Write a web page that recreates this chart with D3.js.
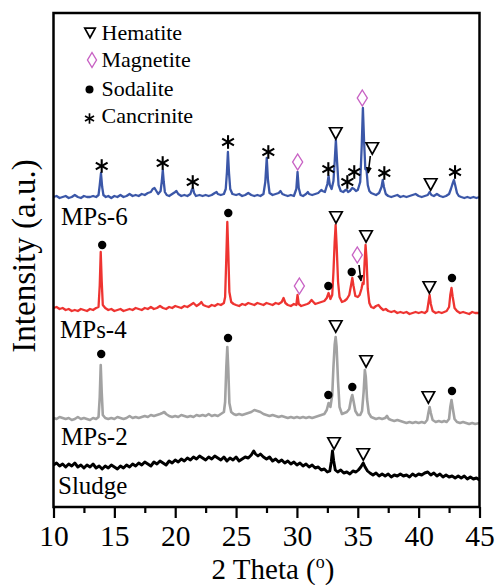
<!DOCTYPE html>
<html>
<head>
<meta charset="utf-8">
<script src="https://cdn.jsdelivr.net/npm/d3@7"></script>
<style>
html,body{margin:0;padding:0;background:#fff;}
svg{display:block;}
text{font-family:"Liberation Serif","Times New Roman",serif;fill:#000;}
</style>
</head>
<body>
<svg id="chart" width="496" height="585"></svg>
<script>
// ---------------- DATA ----------------
const xTicks = [10, 15, 20, 25, 30, 35, 40, 45];
const xMinorTicks = [12.5, 17.5, 22.5, 27.5, 32.5, 37.5, 42.5];
const seriesNames = ["MPs-6", "MPs-4", "MPs-2", "Sludge"];
const legendNames = ["Hematite", "Magnetite", "Sodalite", "Cancrinite"];

// [2 theta, intensity (a.u., stacked)]
const mps6 = [[10,310],[10.25,311],[10.5,309],[10.75,310],[11,311],[11.25,309],[11.5,310],[11.75,312],[12,310],[12.25,309],[12.5,311],[12.75,310],[13,310],[13.25,311],[13.5,310],[13.7,312],[13.8,322],[13.9,334],[14,320],[14.1,312],[14.3,310],[14.5,311],[14.75,309],[15,311],[15.25,310],[15.5,312],[15.75,310],[16,311],[16.25,313],[16.5,311],[16.75,312],[17,311],[17.25,313],[17.5,312],[17.75,314],[18,315],[18.15,318],[18.3,319],[18.45,316],[18.6,313],[18.8,316],[18.9,326],[18.98,337],[19.06,325],[19.15,315],[19.3,312],[19.5,311],[19.75,313],[20,315],[20.1,316],[20.25,313],[20.5,311],[20.75,312],[21,311],[21.25,313],[21.35,317],[21.45,319],[21.55,314],[21.7,311],[22,312],[22.25,311],[22.5,312],[22.75,311],[23,312],[23.25,314],[23.4,315],[23.5,313],[23.75,312],[24,313],[24.15,318],[24.25,335],[24.33,355],[24.42,334],[24.52,318],[24.7,313],[25,312],[25.25,313],[25.5,311],[25.75,312],[26,314],[26.25,312],[26.5,311],[26.75,312],[27,311],[27.25,313],[27.4,325],[27.52,349],[27.62,327],[27.75,314],[28,312],[28.25,313],[28.5,314],[28.65,316],[28.8,313],[29,312],[29.25,311],[29.5,312],[29.75,311],[29.95,318],[30.05,335],[30.15,319],[30.3,312],[30.5,311],[30.75,313],[30.9,315],[31,313],[31.25,312],[31.5,313],[31.75,314],[32,317],[32.1,316],[32.3,315],[32.5,323],[32.6,331],[32.7,322],[32.85,318],[33,326],[33.1,345],[33.2,367],[33.3,345],[33.42,322],[33.6,316],[33.8,315],[34,317],[34.1,317],[34.2,315],[34.35,316],[34.55,319],[34.7,318],[34.85,316],[35,317],[35.2,325],[35.32,360],[35.42,399],[35.52,365],[35.62,338],[35.72,337],[35.82,322],[35.95,316],[36.1,314],[36.3,313],[36.5,312],[36.75,314],[36.95,320],[37.05,327],[37.15,320],[37.3,313],[37.5,311],[37.75,310],[38,311],[38.25,312],[38.5,310],[38.75,311],[39,310],[39.25,311],[39.5,312],[39.75,313],[40,311],[40.25,310],[40.5,311],[40.75,312],[40.9,315],[41.05,312],[41.25,311],[41.5,313],[41.75,311],[42,310],[42.25,311],[42.5,313],[42.65,318],[42.78,323],[42.9,327],[43,322],[43.15,314],[43.3,311],[43.5,310],[43.75,309],[44,310],[44.25,309],[44.5,310],[44.75,309],[45,310]];

const mps4 = [[10,199],[10.25,200],[10.5,198],[10.75,199],[11,197],[11.25,198],[11.5,196],[11.75,197],[12,196],[12.25,198],[12.5,197],[12.75,196],[13,198],[13.25,197],[13.5,199],[13.7,200],[13.8,222],[13.88,255],[13.96,226],[14.05,202],[14.25,199],[14.5,197],[14.75,198],[15,196],[15.25,197],[15.5,198],[15.75,196],[16,197],[16.25,198],[16.5,197],[16.75,199],[17,198],[17.25,197],[17.5,199],[17.75,198],[18,200],[18.25,198],[18.5,199],[18.75,201],[19,199],[19.25,198],[19.5,200],[19.75,199],[20,201],[20.25,200],[20.5,199],[20.75,201],[21,200],[21.25,202],[21.5,204],[21.75,201],[22,203],[22.15,205],[22.3,202],[22.5,201],[22.75,200],[23,202],[23.25,201],[23.5,203],[23.75,202],[24,204],[24.1,210],[24.2,250],[24.28,285],[24.36,255],[24.45,215],[24.6,205],[24.8,203],[25,202],[25.25,201],[25.5,203],[25.75,202],[26,204],[26.25,203],[26.5,202],[26.75,204],[27,203],[27.25,202],[27.5,204],[27.75,203],[28,202],[28.25,204],[28.5,203],[28.75,205],[28.9,209],[29.05,204],[29.25,202],[29.5,201],[29.75,203],[29.95,202],[30.05,212],[30.15,203],[30.35,201],[30.6,202],[30.85,203],[31,204],[31.2,207],[31.35,205],[31.5,203],[31.75,204],[32,205],[32.25,206],[32.45,209],[32.6,214],[32.75,208],[32.9,212],[33,235],[33.1,265],[33.18,282],[33.26,262],[33.38,225],[33.5,210],[33.7,205],[33.9,206],[34.1,208],[34.3,212],[34.45,222],[34.55,229],[34.65,221],[34.8,211],[35,210],[35.15,212],[35.3,218],[35.4,224],[35.48,223],[35.56,245],[35.64,262],[35.72,248],[35.82,218],[35.95,204],[36.1,200],[36.3,199],[36.5,201],[36.7,202],[36.9,199],[37.1,197],[37.3,198],[37.5,196],[37.75,195],[38,196],[38.25,194],[38.5,195],[38.75,194],[39,195],[39.25,193],[39.5,194],[39.75,195],[40,194],[40.25,195],[40.5,194],[40.7,196],[40.8,204],[40.9,212],[41,203],[41.15,196],[41.4,194],[41.65,195],[41.9,194],[42.1,195],[42.3,196],[42.5,200],[42.6,212],[42.7,219],[42.8,210],[42.95,199],[43.15,196],[43.4,194],[43.65,195],[43.9,194],[44.15,193],[44.4,195],[44.65,194],[45,194]];

const mps2 = [[10,89],[10.25,88],[10.5,90],[10.75,89],[11,88],[11.25,89],[11.5,87],[11.75,88],[12,90],[12.25,88],[12.5,89],[12.75,88],[13,87],[13.25,89],[13.5,88],[13.7,90],[13.8,110],[13.88,142],[13.96,115],[14.05,92],[14.25,89],[14.5,88],[14.75,89],[15,88],[15.25,90],[15.5,89],[15.75,88],[16,89],[16.25,91],[16.5,89],[16.75,90],[17,89],[17.25,90],[17.5,91],[17.75,90],[18,92],[18.25,91],[18.5,92],[18.75,93],[18.95,94],[19.1,95],[19.25,93],[19.5,91],[19.75,90],[20,91],[20.25,90],[20.5,92],[20.75,91],[21,90],[21.25,91],[21.5,90],[21.75,92],[22,91],[22.25,92],[22.5,91],[22.75,93],[23,91],[23.25,92],[23.5,91],[23.75,93],[24,95],[24.1,105],[24.2,140],[24.28,160],[24.36,138],[24.45,104],[24.6,95],[24.8,93],[25,92],[25.25,93],[25.5,92],[25.75,93],[26,94],[26.25,95],[26.5,97],[26.75,96],[27,95],[27.25,93],[27.5,92],[27.75,91],[28,92],[28.25,91],[28.5,90],[28.75,91],[29,90],[29.25,89],[29.5,90],[29.75,89],[30,90],[30.25,89],[30.5,90],[30.75,89],[31,90],[31.25,89],[31.5,90],[31.75,91],[32,92],[32.25,93],[32.45,97],[32.6,104],[32.75,100],[32.9,112],[33,140],[33.1,162],[33.18,170],[33.26,160],[33.38,125],[33.5,100],[33.7,93],[33.9,94],[34.1,95],[34.3,98],[34.45,108],[34.55,112],[34.65,106],[34.8,96],[35,92],[35.2,92],[35.35,96],[35.48,115],[35.58,137],[35.66,130],[35.76,108],[35.9,94],[36.1,90],[36.3,89],[36.5,88],[36.75,89],[37,88],[37.25,89],[37.4,91],[37.55,88],[37.75,87],[38,86],[38.25,87],[38.5,86],[38.75,85],[39,84],[39.25,85],[39.5,84],[39.75,85],[40,84],[40.25,85],[40.5,84],[40.7,87],[40.8,94],[40.9,100],[41,94],[41.15,87],[41.4,85],[41.65,86],[41.9,85],[42.1,86],[42.3,85],[42.5,88],[42.6,100],[42.7,107],[42.8,99],[42.95,88],[43.15,85],[43.4,84],[43.65,85],[43.9,84],[44.15,83],[44.4,84],[44.65,83],[45,84]];

const sludge = [[10,42],[10.25,44],[10.5,41],[10.75,43],[11,40],[11.25,43],[11.5,41],[11.75,44],[12,40],[12.25,42],[12.5,39],[12.75,42],[13,40],[13.25,43],[13.5,39],[13.75,41],[14,38],[14.25,41],[14.5,39],[14.75,42],[15,40],[15.25,38],[15.5,41],[15.75,39],[16,42],[16.25,40],[16.5,43],[16.75,41],[17,44],[17.25,42],[17.5,45],[17.75,43],[18,41],[18.25,45],[18.5,43],[18.75,46],[19,44],[19.25,42],[19.5,46],[19.75,44],[20,47],[20.25,45],[20.5,48],[20.75,46],[21,49],[21.25,47],[21.5,50],[21.75,48],[22,51],[22.25,49],[22.5,47],[22.75,50],[23,48],[23.25,51],[23.5,49],[23.75,47],[24,50],[24.25,46],[24.5,49],[24.75,47],[25,50],[25.25,46],[25.5,48],[25.75,50],[26,49],[26.25,52],[26.45,56],[26.6,53],[26.8,51],[27,53],[27.25,50],[27.5,48],[27.75,50],[28,46],[28.25,48],[28.5,45],[28.75,47],[29,44],[29.25,46],[29.5,43],[29.75,45],[30,42],[30.25,44],[30.5,41],[30.75,43],[31,40],[31.25,42],[31.5,39],[31.75,40],[32,37],[32.25,38],[32.5,35],[32.7,36],[32.82,45],[32.92,56],[33.02,46],[33.15,37],[33.35,35],[33.6,37],[33.85,34],[34.1,35],[34.35,33],[34.6,36],[34.85,35],[35.05,37],[35.25,40],[35.45,44],[35.6,40],[35.8,36],[36,34],[36.25,32],[36.5,34],[36.75,31],[37,33],[37.25,31],[37.5,33],[37.75,30],[38,32],[38.25,31],[38.5,33],[38.75,31],[39,32],[39.25,30],[39.5,33],[39.75,31],[40,33],[40.25,32],[40.5,34],[40.75,35],[41,32],[41.25,34],[41.5,31],[41.75,33],[42,30],[42.25,32],[42.5,30],[42.75,31],[43,29],[43.25,31],[43.5,29],[43.75,31],[44,28],[44.25,30],[44.5,28],[44.75,29],[45,27]];

// phase markers [2 theta, intensity]
const hematiteMarks = [[33.19,374],[36.19,359],[40.99,323],[33.21,290],[35.68,271],[40.88,220],[33.19,181],[35.68,146],[40.8,110],[33.05,64],[35.45,53]];
const magnetiteMarks = [[30.06,345],[35.37,409],[30.2,221],[34.96,252]];
const sodaliteMarks = [[14.0,262],[24.36,294],[32.58,221],[34.5,235],[42.74,229],[13.92,153],[24.34,169],[32.58,112],[34.55,120],[42.74,116]];
const cancriniteMarks = [[13.96,341],[18.97,344],[21.44,325],[24.34,365],[27.65,355],[32.58,338],[34.14,325],[34.71,335],[37.18,334],[42.99,335]];
// arrows [from 2θ, from I, to 2θ, to I]
const arrows = [[36.03,351,35.86,334],[35.1,242,35.26,226]];

// ---------------- LAYOUT ----------------
const W = 496, H = 585;
const plot = {left: 53.5, right: 479.5, top: 13, bottom: 507};
const colors = {"MPs-6": "#3b57a8", "MPs-4": "#ee3431", "MPs-2": "#a2a2a2", "Sludge": "#000000"};
const widths = {"MPs-6": 2.3, "MPs-4": 2.3, "MPs-2": 2.6, "Sludge": 2.9};
const seriesData = {"MPs-6": mps6, "MPs-4": mps4, "MPs-2": mps2, "Sludge": sludge};
const labelPos = {"MPs-6": [61, 225], "MPs-4": [60, 338], "MPs-2": [61, 445], "Sludge": [58, 494]};
const magenta = "#c862c4";

const svg = d3.select("#chart");
const x = d3.scaleLinear().domain([10, 45]).range([plot.left, plot.right]);
const y = d3.scaleLinear().domain([0, 494]).range([plot.bottom, plot.top]);

svg.append("defs").append("marker")
  .attr("id", "ah").attr("viewBox", "0 0 10 10").attr("refX", 9).attr("refY", 5)
  .attr("markerWidth", 4).attr("markerHeight", 4).attr("orient", "auto")
  .append("path").attr("d", "M0,0 L10,5 L0,10 z").attr("fill", "#000");

// series lines
const line = d3.line().x(d => x(d[0])).y(d => y(d[1]));
seriesNames.slice().reverse().forEach(n => {
  svg.append("path").datum(seriesData[n])
    .attr("d", line).attr("fill", "none")
    .attr("stroke", colors[n]).attr("stroke-width", widths[n])
    .attr("stroke-linejoin", "round");
});

// series labels
seriesNames.forEach(n => {
  svg.append("text").attr("x", labelPos[n][0]).attr("y", labelPos[n][1])
    .attr("font-size", 25).text(n);
});

// marker drawers
function tri(g, cx, cy, s) {
  g.append("path")
    .attr("d", `M${cx - s/2},${cy - s*0.42} L${cx + s/2},${cy - s*0.42} L${cx},${cy + s*0.5} Z`)
    .attr("fill", "#fff").attr("stroke", "#000").attr("stroke-width", 1.7).attr("stroke-linejoin", "miter");
}
function diamond(g, cx, cy, w, h) {
  g.append("path")
    .attr("d", `M${cx},${cy - h/2} L${cx + w/2},${cy} L${cx},${cy + h/2} L${cx - w/2},${cy} Z`)
    .attr("fill", "#fff").attr("stroke", magenta).attr("stroke-width", 1.4);
}
function dot(g, cx, cy, r) {
  g.append("circle").attr("cx", cx).attr("cy", cy).attr("r", r).attr("fill", "#000");
}
function star(g, cx, cy, r, sw) {
  [90, 30, 150].forEach(a => {
    const rad = a * Math.PI / 180;
    g.append("line")
      .attr("x1", cx - r * Math.cos(rad)).attr("y1", cy - r * Math.sin(rad))
      .attr("x2", cx + r * Math.cos(rad)).attr("y2", cy + r * Math.sin(rad))
      .attr("stroke", "#000").attr("stroke-width", sw);
  });
}

const mk = svg.append("g");
hematiteMarks.forEach(d => tri(mk, x(d[0]), y(d[1]), 12.5));
magnetiteMarks.forEach(d => diamond(mk, x(d[0]), y(d[1]), 10, 16));
sodaliteMarks.forEach(d => dot(mk, x(d[0]), y(d[1]), 4.2));
cancriniteMarks.forEach(d => star(mk, x(d[0]), y(d[1]), 6.8, 2.1));
arrows.forEach(a => {
  mk.append("line")
    .attr("x1", x(a[0])).attr("y1", y(a[1])).attr("x2", x(a[2])).attr("y2", y(a[3]))
    .attr("stroke", "#000").attr("stroke-width", 1.6).attr("marker-end", "url(#ah)");
});

// legend
const lg = svg.append("g");
const legY = [39.5, 67, 95.5, 123];
legendNames.forEach((n, i) => {
  lg.append("text").attr("x", 101.5).attr("y", legY[i]).attr("font-size", 22).text(n);
});
tri(lg, 90, 32.5, 10.5);
diamond(lg, 92, 60, 9, 15);
dot(lg, 89.5, 89.5, 4);
star(lg, 89.5, 118.5, 5.2, 1.7);

// frame
svg.append("rect").attr("x", plot.left).attr("y", plot.top)
  .attr("width", plot.right - plot.left).attr("height", plot.bottom - plot.top)
  .attr("fill", "none").attr("stroke", "#000").attr("stroke-width", 2.5);

// x axis
const ax = svg.append("g").attr("transform", `translate(0,${plot.bottom})`)
  .call(d3.axisBottom(x).tickValues(xTicks).tickSize(11).tickPadding(7).tickFormat(d3.format("d")));
ax.select(".domain").remove();
ax.selectAll(".tick line").attr("stroke-width", 2.2);
ax.selectAll(".tick text").attr("font-size", 29.5)
  .attr("font-family", '"Liberation Serif","Times New Roman",serif').attr("fill", "#000");
const axm = svg.append("g").attr("transform", `translate(0,${plot.bottom})`)
  .call(d3.axisBottom(x).tickValues(xMinorTicks).tickSize(6).tickFormat(""));
axm.select(".domain").remove();
axm.selectAll(".tick line").attr("stroke-width", 2.2);

// axis titles
const xt = svg.append("text").attr("x", 273).attr("y", 578.5)
  .attr("text-anchor", "middle").attr("font-size", 29);
xt.append("tspan").text("2 Theta (");
xt.append("tspan").attr("font-size", 18).attr("dy", -11).text("o");
xt.append("tspan").attr("dy", 11).text(")");

svg.append("text").attr("transform", "translate(35,256) rotate(-90)")
  .attr("text-anchor", "middle").attr("font-size", 33).text("Intensity (a.u.)");
</script>
</body>
</html>
